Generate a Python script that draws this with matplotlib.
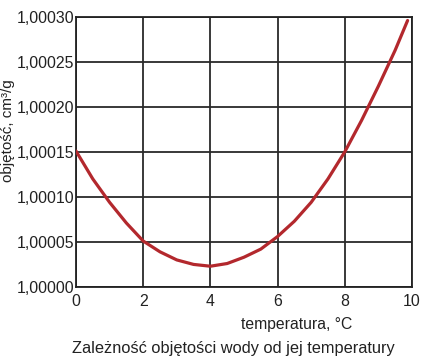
import matplotlib
matplotlib.use("Agg")
import matplotlib.pyplot as plt
from matplotlib.ticker import FuncFormatter

# temperature (°C) and volume offset (units of 1e-5 cm3/g above 1)
temp = [0, 0.5, 1, 1.5, 2, 2.5, 3, 3.5, 4, 4.5, 5, 5.5, 6, 6.5, 7, 7.5, 8, 8.5, 9, 9.5, 9.87]
vol_e5 = [15.1, 12.0, 9.4, 7.1, 5.1, 3.9, 3.0, 2.5, 2.3, 2.6, 3.3, 4.2, 5.6, 7.3, 9.4,
          12.0, 15.0, 18.5, 22.3, 26.3, 29.6]
volume = [1 + v * 1e-5 for v in vol_e5]

x_ticks = [0, 2, 4, 6, 8, 10]
y_ticks = [1.0, 1.00005, 1.0001, 1.00015, 1.0002, 1.00025, 1.0003]

plt.rcParams["font.family"] = ["Liberation Sans", "DejaVu Sans"]

fig = plt.figure(figsize=(4.21, 3.6), dpi=100)
ax = fig.add_axes([0.1805, 0.203, 0.798, 0.750])

ax.plot(temp, volume, color="#b3282d", lw=2.3, solid_capstyle="round",
        solid_joinstyle="round", zorder=3)

ax.set_xlim(0, 10)
ax.set_ylim(1.0, 1.0003)
ax.set_xticks(x_ticks)
ax.set_yticks(y_ticks)
ax.yaxis.set_major_formatter(FuncFormatter(lambda v, p: f"{v:.5f}".replace(".", ",")))
ax.grid(True, color="#2a2a2a", lw=1.3)
ax.tick_params(length=0, labelsize=11.4, colors="#222222")
ax.tick_params(axis="y", pad=1)
ax.tick_params(axis="x", pad=5)
for s in ax.spines.values():
    s.set_color("#222222")
    s.set_linewidth(1.3)

fig.text(297 / 421, 1 - 325 / 360, "temperatura, °C", ha="center", va="center",
         fontsize=11.3, color="#222222")
fig.text(8.5 / 421, 1 - 131 / 360, "objętość, cm³/g", ha="center", va="center",
         rotation=90, fontsize=11, color="#222222")
fig.text(233 / 421, 1 - 349 / 360, "Zależność objętości wody od jej temperatury",
         ha="center", va="center", fontsize=11.8, color="#222222")

fig.savefig("out.png", dpi=100)
